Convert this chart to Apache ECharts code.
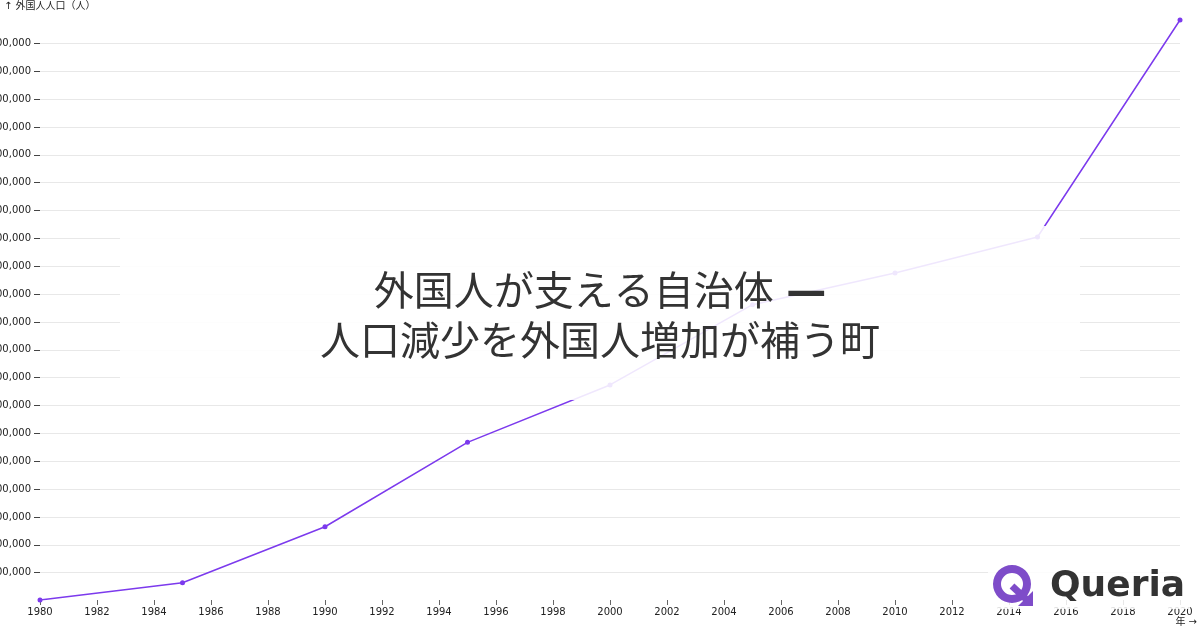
<!DOCTYPE html>
<html>
<head>
<meta charset="utf-8">
<script src="https://cdn.jsdelivr.net/npm/echarts@6/dist/echarts.min.js"></script>
<style>html,body{margin:0;padding:0;background:#fff}#c{width:1200px;height:630px}</style>
</head>
<body>
<div id="c"></div>
<script>
const years = [1980, 1985, 1990, 1995, 2000, 2005, 2010, 2015, 2020];
const foreignPop = [702000, 764000, 965000, 1268000, 1474000, 1762000, 1876000, 2005000, 2784000];
const yTicks = [800000, 900000, 1000000, 1100000, 1200000, 1300000, 1400000, 1500000, 1600000, 1700000,
                1800000, 1900000, 2000000, 2100000, 2200000, 2300000, 2400000, 2500000, 2600000, 2700000];
const titleMain = '外国人が支える自治体';
const titleDash = '—';
const titleSub = '人口減少を外国人増加が補う町';
const yName = '↑ 外国人人口（人）';
const xName = '年 →';

const FONT = 'DejaVu Sans, Noto Sans CJK JP, sans-serif';
const chart = echarts.init(document.getElementById('c'), null, {renderer: 'canvas'});
chart.setOption({
  animation: false,
  backgroundColor: '#ffffff',
  grid: {left: 40, right: 20, top: 20, bottom: 30, containLabel: false, outerBoundsMode: 'none'},
  xAxis: {
    type: 'value', min: 1980, max: 2020, interval: 2,
    axisLine: {show: false},
    axisTick: {show: true, length: 5, lineStyle: {color: '#666'}},
    splitLine: {show: false},
    axisLabel: {color: '#222', fontSize: 10, fontFamily: FONT, margin: 7, formatter: v => String(v)}
  },
  yAxis: {
    type: 'value', min: 'dataMin', max: 'dataMax',
    axisLine: {show: false},
    axisTick: {show: true, length: 6, customValues: yTicks, lineStyle: {color: '#444'}},
    splitLine: {show: true, lineStyle: {color: '#e8e8e8', width: 1}},
    axisLabel: {color: '#222', fontSize: 10, fontFamily: FONT, margin: 9, customValues: yTicks,
      formatter: v => Number(v).toLocaleString('en-US')}
  },
  series: [{
    type: 'line',
    data: years.map((y, i) => [y, foreignPop[i]]),
    lineStyle: {color: '#7c3aed', width: 1.5},
    itemStyle: {color: '#7c3aed'},
    symbol: 'circle', symbolSize: 5, showSymbol: true
  }],
  graphic: [
    {type: 'text', left: 4, top: 1, style: {text: yName, fontSize: 10, fontFamily: FONT, fill: '#222'}},
    {type: 'text', right: 3, top: 617, style: {text: xName, fontSize: 10, fontFamily: FONT, fill: '#222'}},
    {type: 'rect', shape: {x: 120, y: 226, width: 960, height: 174}, style: {fill: 'rgba(255,255,255,0.88)'}, z: 100},
    {type: 'text', z: 101, style: {
      text: '{m|' + titleMain + ' }{d|' + titleDash + '}\n{m|' + titleSub + '}',
      x: 600, y: 320, align: 'center', verticalAlign: 'middle',
      fontSize: 40, lineHeight: 50, fontFamily: FONT, fill: '#333',
      rich: {
        m: {fontSize: 40, lineHeight: 50, fontFamily: FONT, fill: '#333'},
        d: {fontSize: 40, lineHeight: 50, fontFamily: FONT, fill: '#333', fontWeight: 'bold'}
      }}},
    {type: 'rect', shape: {x: 988, y: 561, width: 202, height: 48}, style: {fill: 'rgba(255,255,255,0.85)'}, z: 100},
    {type: 'ring', z: 101, shape: {cx: 1012, cy: 584, r: 19, r0: 11}, style: {fill: '#7e4cc9'}},
    {type: 'polyline', z: 101, shape: {points: [[1012, 586], [1026, 599]]}, style: {stroke: '#7e4cc9', lineWidth: 7, lineCap: 'butt'}},
    {type: 'polygon', z: 101, shape: {points: [[1033, 591], [1033, 606], [1018, 606]]}, style: {fill: '#7e4cc9'}},
    {type: 'text', z: 101, style: {text: 'Queria', x: 1050, y: 587, verticalAlign: 'middle', fontSize: 36, fontWeight: 'bold',
      fontFamily: 'DejaVu Sans', fill: '#333'}}
  ]
});
</script>
</body>
</html>
